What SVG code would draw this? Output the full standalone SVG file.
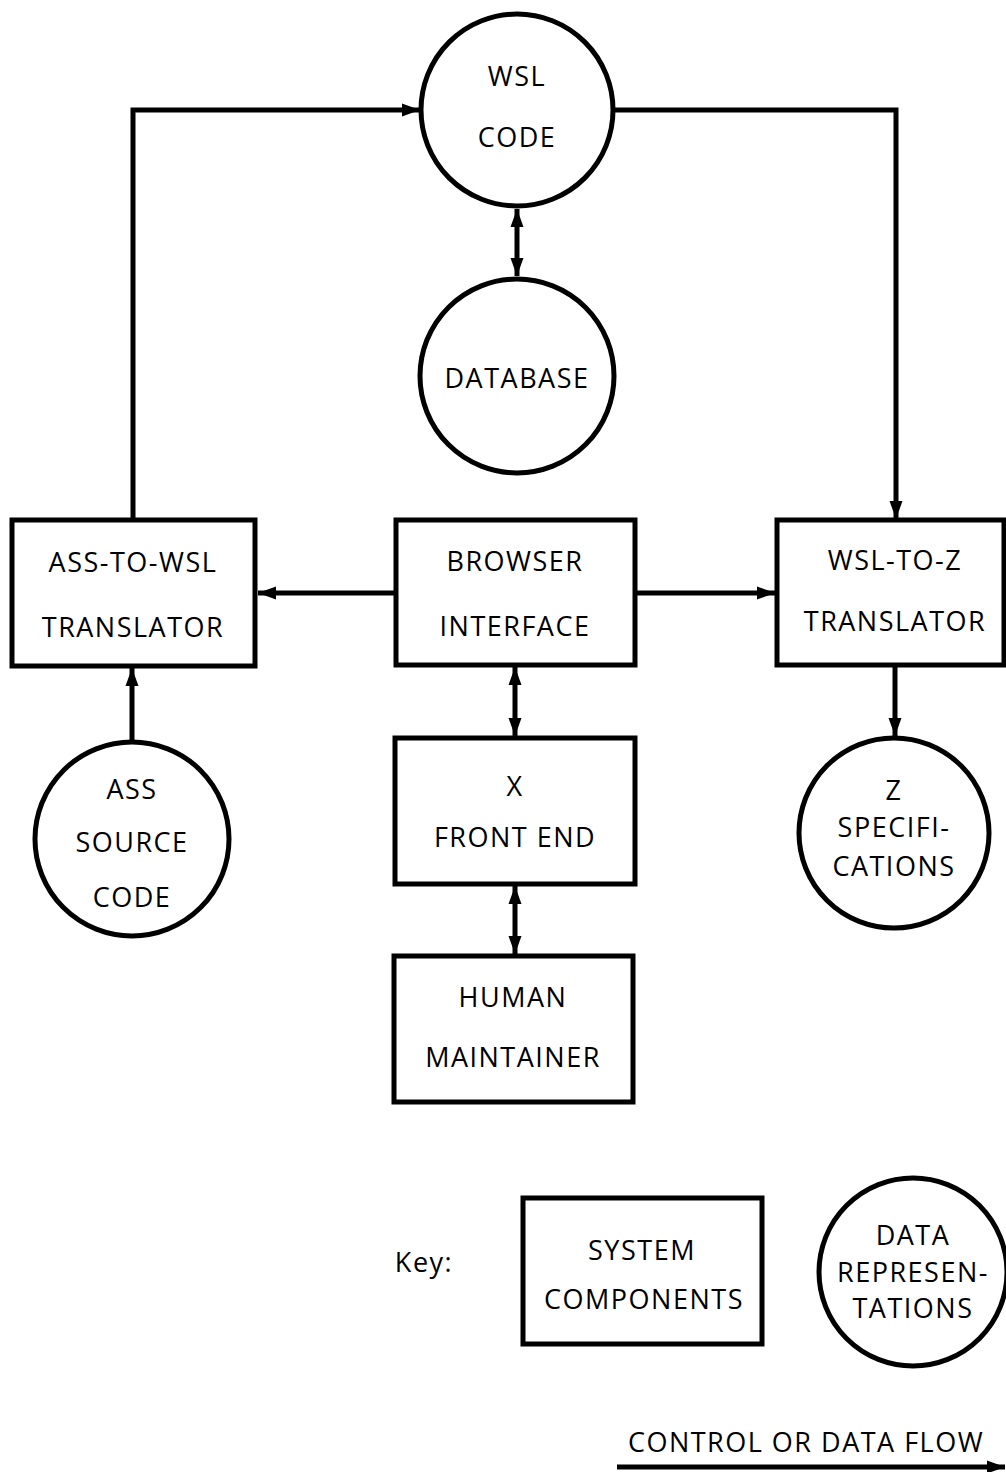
<svg xmlns="http://www.w3.org/2000/svg" width="1006" height="1472" viewBox="0 0 1006 1472">
<style>
.n{fill:#fff;stroke:#000;stroke-width:5}
.t{font-family:"Open Sans","Liberation Sans",sans-serif;font-size:27px;letter-spacing:1.5px;fill:#000;text-anchor:middle}
.c{fill:none;stroke:#000;stroke-width:5}
</style>
<defs>
<marker id="ah" markerUnits="userSpaceOnUse" markerWidth="20" markerHeight="16" refX="18" refY="8" orient="auto-start-reverse"><path d="M0,1.5 L18,8 L0,14.5 z" fill="#000"/></marker>
</defs>
<g id="connectors">
<path class="c" d="M133,520 V110 H420" marker-end="url(#ah)"/>
<path class="c" d="M613,110 H896 V519" marker-end="url(#ah)"/>
<path class="c" d="M517,209 V276" marker-start="url(#ah)" marker-end="url(#ah)"/>
<path class="c" d="M395,593 H258" marker-end="url(#ah)"/>
<path class="c" d="M635,593 H775" marker-end="url(#ah)"/>
<path class="c" d="M132,743 V668" marker-end="url(#ah)"/>
<path class="c" d="M895,665 V736" marker-end="url(#ah)"/>
<path class="c" d="M515,667 V736" marker-start="url(#ah)" marker-end="url(#ah)"/>
<path class="c" d="M515,886 V954" marker-start="url(#ah)" marker-end="url(#ah)"/>
</g>
<g id="wsl-code"><circle class="n" cx="517" cy="110" r="96"/><text class="t" x="517" y="86">WSL</text><text class="t" x="517" y="147">CODE</text></g>
<g id="database"><circle class="n" cx="517" cy="376" r="97"/><text class="t" x="517" y="388">DATABASE</text></g>
<g id="ass-to-wsl"><rect class="n" x="12" y="520" width="243" height="146"/><text class="t" x="133" y="572">ASS-TO-WSL</text><text class="t" x="133" y="637">TRANSLATOR</text></g>
<g id="browser"><rect class="n" x="396" y="520" width="239" height="145"/><text class="t" x="515" y="571">BROWSER</text><text class="t" x="515" y="636">INTERFACE</text></g>
<g id="wsl-to-z"><rect class="n" x="777" y="520" width="227" height="145"/><text class="t" x="895" y="570">WSL-TO-Z</text><text class="t" x="895" y="631">TRANSLATOR</text></g>
<g id="ass-source"><circle class="n" cx="132" cy="839" r="97"/><text class="t" x="132" y="799">ASS</text><text class="t" x="132" y="852">SOURCE</text><text class="t" x="132" y="907">CODE</text></g>
<g id="z-spec"><circle class="n" cx="894" cy="833" r="95"/><text class="t" x="894" y="800">Z</text><text class="t" x="894" y="837">SPECIFI-</text><text class="t" x="894" y="876">CATIONS</text></g>
<g id="x-front-end"><rect class="n" x="395" y="738" width="240" height="146"/><text class="t" x="515" y="796">X</text><text class="t" x="515" y="847">FRONT END</text></g>
<g id="human"><rect class="n" x="394" y="956" width="239" height="146"/><text class="t" x="513" y="1007">HUMAN</text><text class="t" x="513" y="1067">MAINTAINER</text></g>
<g id="key">
<text class="t" x="424" y="1272">Key:</text>
<rect class="n" x="523" y="1198" width="239" height="146"/><text class="t" x="642" y="1260">SYSTEM</text><text class="t" x="644" y="1309">COMPONENTS</text>
<circle class="n" cx="913" cy="1272" r="94"/><text class="t" x="913" y="1245">DATA</text><text class="t" x="913" y="1282">REPRESEN-</text><text class="t" x="913" y="1318">TATIONS</text>
<text class="t" x="806" y="1452">CONTROL OR DATA FLOW</text>
<path class="c" d="M617,1467 H1005" marker-end="url(#ah)"/>
</g>
</svg>
